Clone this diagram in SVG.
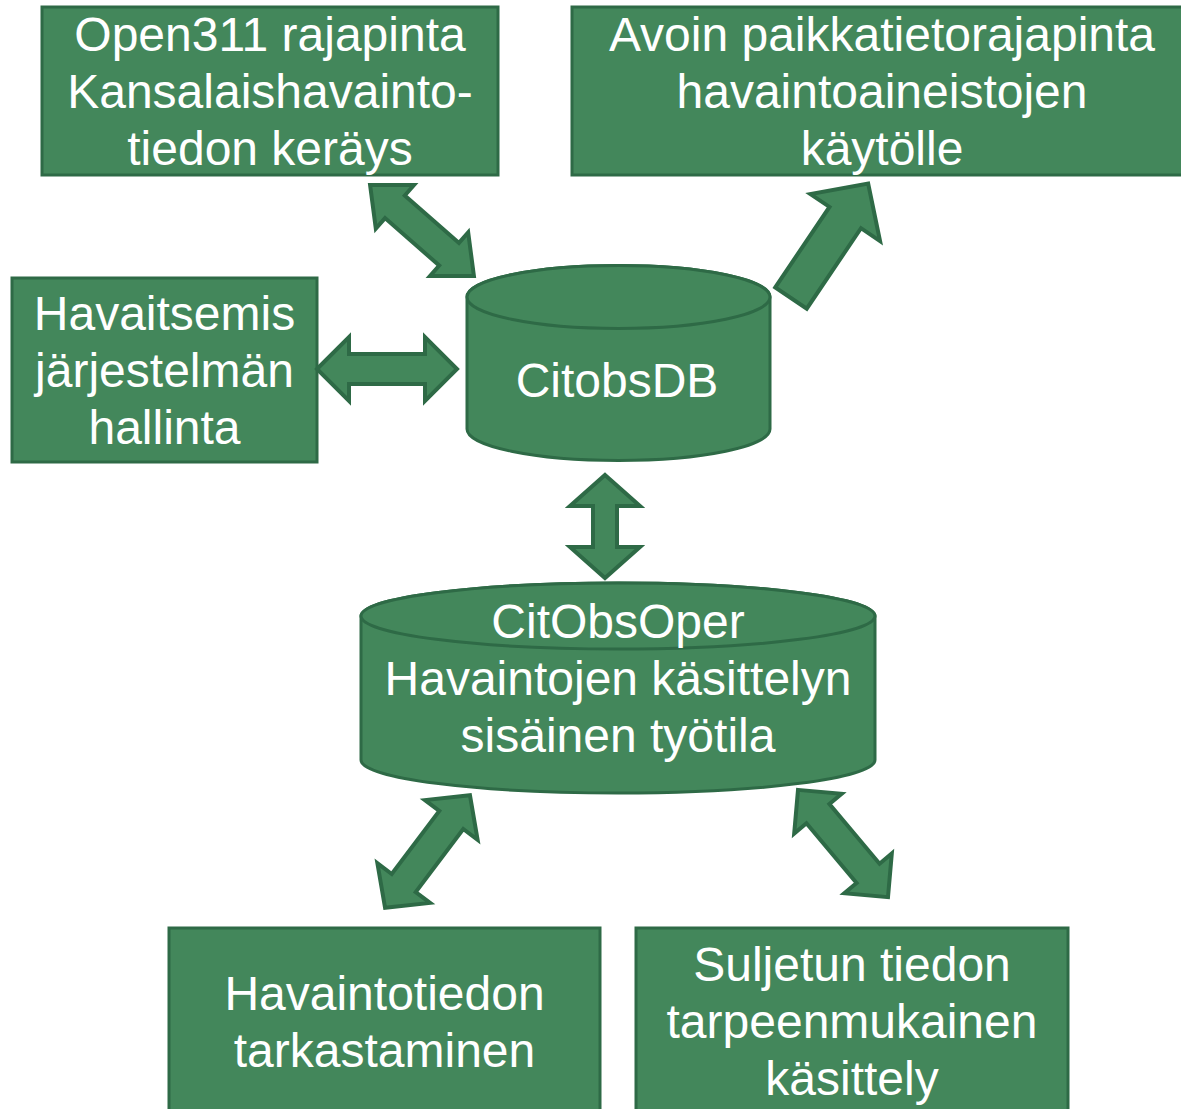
<svg xmlns="http://www.w3.org/2000/svg" width="1181" height="1109" viewBox="0 0 1181 1109">
<style>
.n{fill:#43875b;stroke:#2e6a46;stroke-width:3}
.a{fill:#43875b;stroke:#2e6a46;stroke-width:4;stroke-linejoin:miter}
text{font-family:"Liberation Sans",Arial,sans-serif;font-size:48px;fill:#ffffff;text-anchor:middle}
</style>
<rect width="1181" height="1109" fill="#ffffff"/>
<g id="open311">
<rect class="n" x="42" y="7" width="456" height="168"/>
<text x="270" y="51">Open311 rajapinta</text>
<text x="270" y="108">Kansalaishavainto-</text>
<text x="270" y="165">tiedon keräys</text>
</g>
<g id="avoin">
<rect class="n" x="572" y="7" width="625" height="168"/>
<text x="882" y="51">Avoin paikkatietorajapinta</text>
<text x="882" y="108">havaintoaineistojen</text>
<text x="882" y="165">käytölle</text>
</g>
<g id="havaitsemis">
<rect class="n" x="12" y="278" width="305" height="184"/>
<text x="164.5" y="330">Havaitsemis</text>
<text x="164.5" y="387">järjestelmän</text>
<text x="164.5" y="444">hallinta</text>
</g>
<g id="citobsdb">
<path class="n" d="M467,297 L467,429 A151.5,31.5 0 0 0 770,429 L770,297 A151.5,31.5 0 0 0 467,297 Z"/>
<ellipse class="n" cx="618.5" cy="297" rx="151.5" ry="31.5"/>
<text x="617" y="397">CitobsDB</text>
</g>
<g id="citobsoper">
<path class="n" d="M361,616 L361,760 A257,33 0 0 0 875,760 L875,616 A257,33 0 0 0 361,616 Z"/>
<ellipse class="n" cx="618" cy="616" rx="257" ry="33"/>
<text x="618" y="638">CitObsOper</text>
<text x="618" y="695">Havaintojen käsittelyn</text>
<text x="618" y="752">sisäinen työtila</text>
</g>
<g id="tarkastaminen">
<rect class="n" x="169" y="928" width="431" height="200"/>
<text x="384.5" y="1010">Havaintotiedon</text>
<text x="384.5" y="1067">tarkastaminen</text>
</g>
<g id="suljetun">
<rect class="n" x="636" y="928" width="432" height="200"/>
<text x="852" y="981">Suljetun tiedon</text>
<text x="852" y="1038">tarpeenmukainen</text>
<text x="852" y="1095">käsittely</text>
</g>
<g id="connectors">
<polygon class="a" transform="translate(422,230.5) rotate(41.2)" points="-69,0 -36,-29 -36,-15 36,-15 36,-29 69,0 36,29 36,15 -36,15 -36,29"/>
<polygon class="a" transform="translate(791,298) rotate(-56)" points="0,-19 97,-19 97,-42 138,0 97,42 97,19 0,19"/>
<polygon class="a" transform="translate(387,369)" points="-70,0 -38,-32 -38,-15 38,-15 38,-32 70,0 38,32 38,15 -38,15 -38,32"/>
<polygon class="a" transform="translate(605,526.5) rotate(90)" points="-51.5,0 -20.5,-35 -20.5,-12 20.5,-12 20.5,-35 51.5,0 20.5,35 20.5,12 -20.5,12 -20.5,35"/>
<polygon class="a" transform="translate(427.5,851.5) rotate(127)" points="-70.5,0 -39.5,-33 -39.5,-15 39.5,-15 39.5,-33 70.5,0 39.5,33 39.5,15 -39.5,15 -39.5,33"/>
<polygon class="a" transform="translate(843,843.5) rotate(50)" points="-70,0 -39,-31 -39,-15 39,-15 39,-31 70,0 39,31 39,15 -39,15 -39,31"/>
</g>
</svg>
